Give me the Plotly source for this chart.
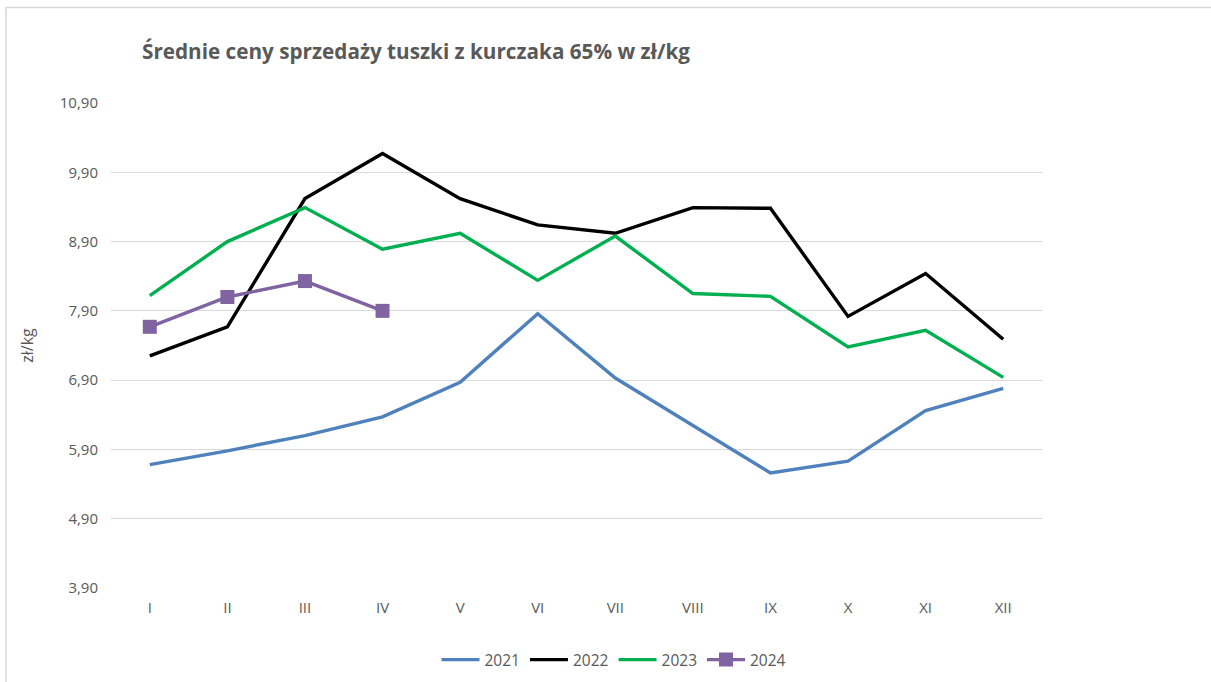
import plotly.graph_objects as go

months = ["I", "II", "III", "IV", "V", "VI", "VII", "VIII", "IX", "X", "XI", "XII"]
y2021 = [5.68, 5.88, 6.10, 6.37, 6.87, 7.86, 6.93, 6.25, 5.56, 5.73, 6.46, 6.78]
y2022 = [7.25, 7.67, 9.52, 10.17, 9.52, 9.14, 9.02, 9.39, 9.38, 7.82, 8.44, 7.49]
y2023 = [8.12, 8.90, 9.39, 8.79, 9.02, 8.34, 8.98, 8.15, 8.11, 7.38, 7.62, 6.94]
y2024 = [7.67, 8.10, 8.33, 7.90]
y_ticks = [3.9, 4.9, 5.9, 6.9, 7.9, 8.9, 9.9, 10.9]

fig = go.Figure()
fig.add_trace(go.Scatter(x=months, y=y2021, name="2021", mode="lines",
                         line=dict(color="#4F81BD", width=3.4)))
fig.add_trace(go.Scatter(x=months, y=y2022, name="2022", mode="lines",
                         line=dict(color="#000000", width=3.4)))
fig.add_trace(go.Scatter(x=months, y=y2023, name="2023", mode="lines",
                         line=dict(color="#00B050", width=3.4)))
fig.add_trace(go.Scatter(x=months[:len(y2024)], y=y2024, name="2024", mode="lines+markers",
                         line=dict(color="#8064A2", width=3.4),
                         marker=dict(symbol="square", size=14, color="#8064A2")))

W, H = 1211, 682
ml, mr, mt, mb = 111, 169, 103, 94
pw, ph = W - ml - mr, H - mt - mb

fig.update_layout(
    width=W, height=H,
    margin=dict(l=ml, r=mr, t=mt, b=mb, autoexpand=False),
    paper_bgcolor="white", plot_bgcolor="white",
    separators=", ",
    font=dict(family="Open Sans, Liberation Sans, sans-serif", color="#595959", size=15),
    title=dict(text="<b>Średnie ceny sprzedaży tuszki z kurczaka 65% w zł/kg</b>",
               x=142 / W, xanchor="left", y=1 - 52 / H, yanchor="middle",
               font=dict(size=20.7, color="#595959")),
    xaxis=dict(range=[-0.5, 11.5], showgrid=False, showline=False, zeroline=False,
               ticks="", ticklabelstandoff=9, automargin=False,
               tickfont=dict(size=15, color="#595959")),
    yaxis=dict(range=[3.9, 10.9], tickvals=y_ticks, tickformat=".2f",
               showgrid=True, gridcolor="#D9D9D9", gridwidth=1.3,
               zeroline=False, showline=False, ticks="", ticklabelstandoff=12,
               automargin=False,
               tickfont=dict(size=15, color="#595959"),
               title=dict(text="zł/kg", font=dict(size=16, color="#595959"), standoff=22)),
    legend=dict(orientation="h", x=(614 - ml) / pw, xanchor="center",
                y=-(660 - (mt + ph)) / ph, yanchor="middle",
                font=dict(size=15.5, color="#595959"), itemwidth=38),
    showlegend=True,
)

# outer chart border (top and left edges visible)
fig.add_shape(type="rect", xref="paper", yref="paper",
              x0=(6 - ml) / pw, x1=(1230 - ml) / pw,
              y0=(mt + ph - 700) / ph, y1=(mt + ph - 7.5) / ph,
              line=dict(color="#D9D9D9", width=1.5), fillcolor="rgba(0,0,0,0)", layer="below")

fig.write_html("out.html", config={"displayModeBar": False},
               post_script="document.body.style.margin='0px';")
